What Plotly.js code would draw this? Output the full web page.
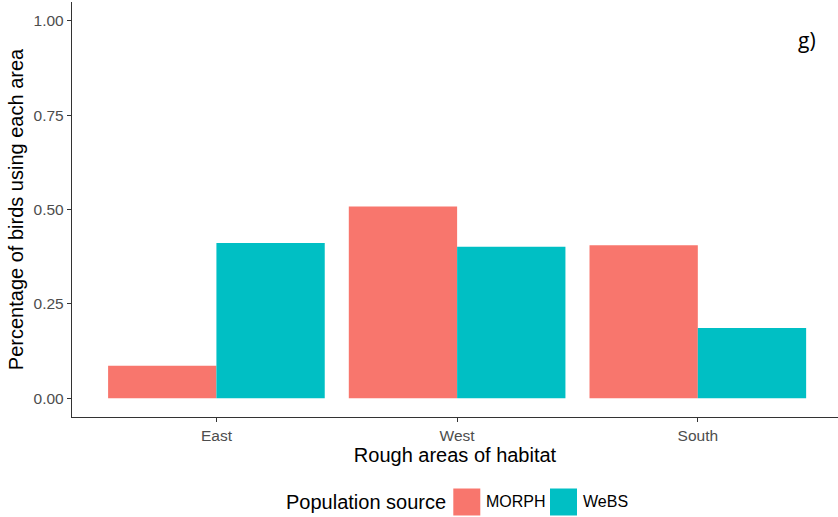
<!DOCTYPE html>
<html>
<head>
<meta charset="utf-8">
<script src="https://cdn.plot.ly/plotly-3.0.1.min.js"></script>
<style>html,body{margin:0;padding:0;background:#fff;}#chart{width:838px;height:517px;}</style>
</head>
<body>
<div id="chart"></div>
<script>
// Data
const areas = ["East", "West", "South"];
const seriesNames = ["MORPH", "WeBS"];
const morphValues = [0.086, 0.508, 0.405];
const webbsValues = [0.411, 0.401, 0.186];
const seriesColors = ["#F8766D", "#00BFC4"];
const yTickVals = [0, 0.25, 0.5, 0.75, 1];
const yTickText = ["0.00", "0.25", "0.50", "0.75", "1.00"];

const W = 838, H = 517;
const M = {l: 72, r: 0, t: 2, b: 100};
const plotW = W - M.l - M.r, plotH = H - M.t - M.b;
const catStep = 240.7;
const px2x = px => (px - M.l) / plotW;
const py2y = py => (H - M.b - py) / plotH;

const FONT = "Liberation Sans, Arial, sans-serif";

const traces = [
  {type: "bar", name: seriesNames[0], x: areas, y: morphValues, marker: {color: seriesColors[0], line: {width: 0}}, showlegend: false},
  {type: "bar", name: seriesNames[1], x: areas, y: webbsValues, marker: {color: seriesColors[1], line: {width: 0}}, showlegend: false}
];

// manual ggplot-like legend
const shapes = [];
const annotations = [
  {text: "Population source", xref: "paper", yref: "paper", x: px2x(284), y: py2y(502), xanchor: "left", yanchor: "middle", showarrow: false, font: {family: FONT, size: 20, color: "#000"}}
];
const keyLeft = [453.3, 550];
seriesNames.forEach((n, i) => {
  shapes.push({type: "rect", xref: "paper", yref: "paper", x0: px2x(keyLeft[i]), x1: px2x(keyLeft[i] + 27), y0: py2y(515.5), y1: py2y(488.5), fillcolor: seriesColors[i], line: {width: 0}});
  annotations.push({text: n, xref: "paper", yref: "paper", x: px2x(keyLeft[i] + 30.5), y: py2y(502), xanchor: "left", yanchor: "middle", showarrow: false, font: {family: FONT, size: 16, color: "#000"}});
});
annotations.push({text: "g)", xref: "paper", yref: "paper", x: px2x(818), y: py2y(40), xanchor: "right", yanchor: "middle", showarrow: false, font: {family: "Open Sans, Noto Sans, sans-serif", size: 21, color: "#000"}});

const layout = {
  width: W, height: H,
  margin: M,
  paper_bgcolor: "#fff", plot_bgcolor: "#fff",
  barmode: "group", bargap: 0.1, bargroupgap: 0,
  showlegend: false,
  font: {family: FONT},
  xaxis: {
    type: "category",
    range: [-0.6, -0.6 + plotW / catStep],
    showline: true, linecolor: "#333", linewidth: 1.2,
    ticks: "outside", ticklen: 4, tickcolor: "#333", tickwidth: 1.2,
    tickfont: {family: FONT, size: 15.5, color: "#4D4D4D"},
    showgrid: false, zeroline: false,
    title: {text: "Rough areas of habitat", font: {family: FONT, size: 20, color: "#000"}, standoff: 4}
  },
  yaxis: {
    range: [-0.05, 1.05],
    tickvals: yTickVals, ticktext: yTickText,
    showline: true, linecolor: "#333", linewidth: 1.2,
    ticks: "outside", ticklen: 4, tickcolor: "#333", tickwidth: 1.2,
    tickfont: {family: FONT, size: 15.5, color: "#4D4D4D"},
    showgrid: false, zeroline: false,
    title: {text: "Percentage of birds using each area", font: {family: FONT, size: 20, color: "#000"}, standoff: 4}
  },
  shapes: shapes,
  annotations: annotations
};

Plotly.newPlot("chart", traces, layout, {staticPlot: true, displayModeBar: false});
</script>
</body>
</html>
